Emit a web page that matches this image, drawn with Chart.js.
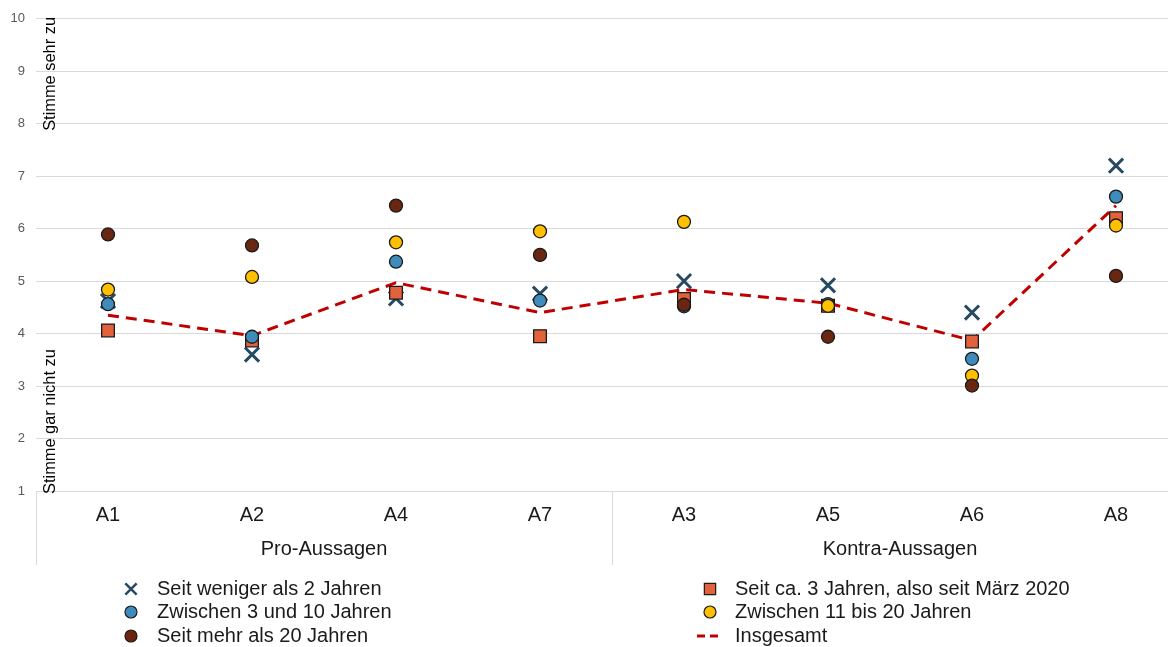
<!DOCTYPE html>
<html>
<head>
<meta charset="utf-8">
<script src="https://cdn.jsdelivr.net/npm/chart.js@4.4.1/dist/chart.umd.min.js"></script>
<style>
  html, body { margin: 0; padding: 0; background: #ffffff; overflow: hidden; }
  #wrap { width: 1188px; height: 647px; position: relative; }
</style>
</head>
<body>
<div id="wrap"><canvas id="c"></canvas></div>
<script>
// ---- data ----
const categories = ['A1', 'A2', 'A4', 'A7', 'A3', 'A5', 'A6', 'A8'];
const groupLabels = ['Pro-Aussagen', 'Kontra-Aussagen'];
const groupSizes = [4, 4];
const yTicks = [1, 2, 3, 4, 5, 6, 7, 8, 9, 10];
const axisTop = 'Stimme sehr zu';
const axisBottom = 'Stimme gar nicht zu';

const seriesNames = [
  'Seit weniger als 2 Jahren',
  'Seit ca. 3 Jahren, also seit März 2020',
  'Zwischen 3 und 10 Jahren',
  'Zwischen 11 bis 20 Jahren',
  'Seit mehr als 20 Jahren',
  'Insgesamt'
];
const lessThan2 = [4.62, 3.60, 4.67, 4.76, 5.00, 4.92, 4.40, 7.20];
const since2020 = [4.06, 3.87, 4.78, 3.95, 4.66, 4.53, 3.85, 6.20];
const y3to10   = [4.56, 3.94, 5.37, 4.63, 4.52, 4.56, 3.52, 6.61];
const y11to20  = [4.84, 5.08, 5.74, 5.95, 6.13, 4.53, 3.20, 6.06];
const moreThan20 = [5.89, 5.68, 6.44, 5.50, 4.55, 3.94, 3.01, 5.10];
const overall  = [4.35, 3.96, 4.97, 4.40, 4.84, 4.58, 3.87, 6.44];

const FONT = '"Liberation Sans", Arial, sans-serif';
const GRID = '#d9d9d9';

const datasets = [
  { label: seriesNames[0], data: lessThan2, type: 'line', showLine: false,
    pointStyle: 'crossRot', pointRadius: 10, pointHoverRadius: 10,
    pointBorderColor: '#264a63', pointBackgroundColor: '#264a63', pointBorderWidth: 3, order: 6 },
  { label: seriesNames[1], data: since2020, type: 'line', showLine: false,
    pointStyle: 'rect', pointRadius: 9, pointHoverRadius: 9,
    pointBorderColor: '#1a1a1a', pointBackgroundColor: '#e2623b', pointBorderWidth: 1.3, order: 5 },
  { label: seriesNames[2], data: y3to10, type: 'line', showLine: false,
    pointStyle: 'circle', pointRadius: 6.5, pointHoverRadius: 6.5,
    pointBorderColor: '#1a1a1a', pointBackgroundColor: '#3f8bbb', pointBorderWidth: 1.3, order: 4 },
  { label: seriesNames[3], data: y11to20, type: 'line', showLine: false,
    pointStyle: 'circle', pointRadius: 6.5, pointHoverRadius: 6.5,
    pointBorderColor: '#1a1a1a', pointBackgroundColor: '#ffc000', pointBorderWidth: 1.3, order: 3 },
  { label: seriesNames[4], data: moreThan20, type: 'line', showLine: false,
    pointStyle: 'circle', pointRadius: 6.5, pointHoverRadius: 6.5,
    pointBorderColor: '#1a1a1a', pointBackgroundColor: '#6b2612', pointBorderWidth: 1.3, order: 2 },
  { label: seriesNames[5], data: overall, type: 'line', showLine: true,
    borderColor: '#c00000', borderWidth: 3, borderDash: [11, 7], tension: 0,
    pointRadius: 0, pointHoverRadius: 0, fill: false, order: 10 }
];

const decorPlugin = {
  id: 'decor',
  afterDraw(chart) {
    const ctx = chart.ctx;
    const xs = chart.scales.x;
    const area = chart.chartArea;
    ctx.save();
    // rotated axis captions
    ctx.fillStyle = '#000000';
    ctx.font = '16.4px ' + FONT;
    ctx.textBaseline = 'middle';
    ctx.save();
    ctx.translate(50, 17);
    ctx.rotate(-Math.PI / 2);
    ctx.textAlign = 'right';
    ctx.fillText(axisTop, 0, 0);
    ctx.restore();
    ctx.save();
    ctx.translate(50, 494);
    ctx.rotate(-Math.PI / 2);
    ctx.textAlign = 'left';
    ctx.fillText(axisBottom, 0, 0);
    ctx.restore();

    // group separators and labels
    const step = xs.getPixelForValue(1) - xs.getPixelForValue(0);
    let idx = 0;
    ctx.strokeStyle = GRID;
    ctx.lineWidth = 1;
    const sepTop = area.bottom, sepBottom = area.bottom + 74;
    const edges = [];
    edges.push(xs.getPixelForValue(0) - step / 2);
    groupSizes.forEach((n, g) => {
      const start = xs.getPixelForValue(idx) - step / 2;
      const end = xs.getPixelForValue(idx + n - 1) + step / 2;
      edges.push(end);
      ctx.fillStyle = '#1a1a1a';
      ctx.font = '20px ' + FONT;
      ctx.textAlign = 'center';
      ctx.textBaseline = 'middle';
      ctx.fillText(groupLabels[g], (start + end) / 2, 549);
      idx += n;
    });
    edges.forEach(e => {
      const px = Math.round(e) + 0.5;
      ctx.beginPath();
      ctx.moveTo(px, sepTop);
      ctx.lineTo(px, sepBottom);
      ctx.stroke();
    });

    // legend
    const order = [0, 1, 2, 3, 4, 5];
    const cols = [{ mx: 131, tx: 157 }, { mx: 710, tx: 735 }];
    const rows = [589, 612, 636];
    order.forEach((di, k) => {
      const ds = chart.data.datasets[di];
      const col = cols[k % 2];
      const y = rows[Math.floor(k / 2)];
      ctx.save();
      if (ds.showLine) {
        ctx.strokeStyle = ds.borderColor;
        ctx.lineWidth = 3;
        ctx.setLineDash([8, 5]);
        ctx.beginPath();
        ctx.moveTo(col.mx - 13, y);
        ctx.lineTo(col.mx + 13, y);
        ctx.stroke();
      } else {
        ctx.fillStyle = ds.pointBackgroundColor;
        ctx.strokeStyle = ds.pointBorderColor;
        ctx.lineWidth = ds.pointStyle === 'crossRot' ? 2.5 : 1.2;
        const r = ds.pointStyle === 'crossRot' ? 8 : (ds.pointStyle === 'rect' ? 8 : 6);
        Chart.helpers.drawPoint(ctx, { pointStyle: ds.pointStyle, radius: r, rotation: 0, borderWidth: ctx.lineWidth }, col.mx, y);
      }
      ctx.restore();
      ctx.fillStyle = '#1a1a1a';
      ctx.font = '20px ' + FONT;
      ctx.textAlign = 'left';
      ctx.textBaseline = 'middle';
      ctx.fillText(ds.label, col.tx, y);
    });
    ctx.restore();
  }
};

new Chart(document.getElementById('c'), {
  type: 'line',
  data: { labels: categories, datasets: datasets },
  options: {
    responsive: true,
    maintainAspectRatio: false,
    devicePixelRatio: 1,
    animation: false,
    layout: { autoPadding: false, padding: { top: 18, right: 0, bottom: 0, left: 0 } },
    plugins: { legend: { display: false }, tooltip: { enabled: false } },
    scales: {
      x: {
        type: 'category',
        offset: true,
        grid: { display: false, drawTicks: false },
        border: { display: false },
        ticks: { color: '#1a1a1a', font: { family: FONT, size: 20 }, padding: 12, maxRotation: 0 },
        afterFit(scale) { scale.height = 156; scale.paddingLeft = 0; scale.paddingRight = 0; }
      },
      y: {
        min: 1, max: 10,
        afterBuildTicks(scale) { scale.ticks = yTicks.map(v => ({ value: v })); },
        grid: { color: GRID, lineWidth: 1, drawTicks: false },
        border: { display: false },
        ticks: { color: '#595959', font: { family: FONT, size: 13 }, padding: 11 },
        afterFit(scale) { scale.width = 36; }
      }
    }
  },
  plugins: [decorPlugin]
});
</script>
</body>
</html>
